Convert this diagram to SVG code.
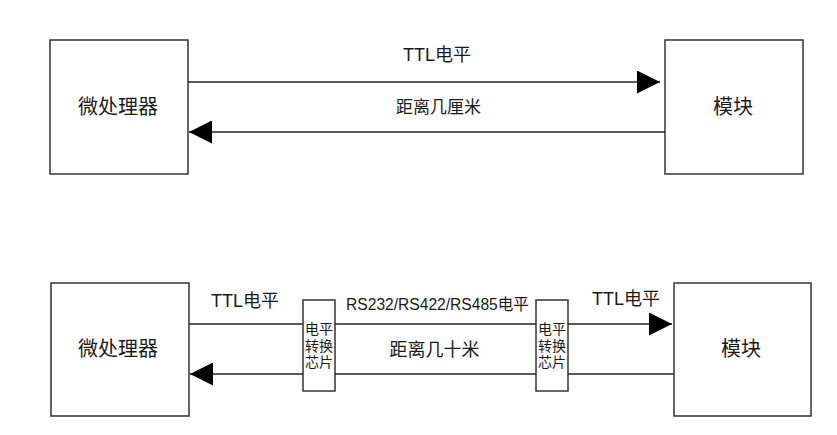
<svg xmlns="http://www.w3.org/2000/svg" width="837" height="435" viewBox="0 0 837 435">
<style>
.box{fill:#fff;stroke:#333;stroke-width:1.5}
.ln{stroke:#222;stroke-width:1.5;fill:none}
text{font-family:"Liberation Sans","Noto Sans CJK SC",sans-serif;fill:#1a1a1a;text-anchor:middle;dominant-baseline:central}
.big{font-size:20px}
.lbl{font-size:18px}
.chip{font-size:14px}
</style>
<defs>
<marker id="arr" viewBox="0 0 23 23" refX="23" refY="11.5" markerWidth="23" markerHeight="23" markerUnits="userSpaceOnUse" orient="auto">
<path d="M0,0 L23,11.5 L0,23 Z" fill="#000"/>
</marker>
</defs>
<rect width="837" height="435" fill="#fff"/>
<g id="top-cpu"><rect class="box" x="50" y="40" width="138" height="134"/><text class="big" x="118" y="107">微处理器</text></g>
<g id="top-module"><rect class="box" x="665" y="40" width="138" height="134"/><text class="big" x="733" y="107">模块</text></g>
<g id="bot-cpu"><rect class="box" x="51" y="283" width="138" height="133"/><text class="big" x="118" y="349">微处理器</text></g>
<g id="bot-module"><rect class="box" x="674" y="283" width="137" height="133"/><text class="big" x="741" y="349">模块</text></g>
<g id="chip1"><rect class="box" x="303" y="300" width="32" height="91"/><text class="chip" x="319" y="329">电平</text><text class="chip" x="319" y="345.5">转换</text><text class="chip" x="319" y="362">芯片</text></g>
<g id="chip2"><rect class="box" x="536" y="300" width="32" height="91"/><text class="chip" x="552" y="329">电平</text><text class="chip" x="552" y="345.5">转换</text><text class="chip" x="552" y="362">芯片</text></g>
<g id="connectors">
<line class="ln" x1="188" y1="82" x2="660" y2="82" marker-end="url(#arr)"/>
<line class="ln" x1="665" y1="132" x2="189" y2="132" marker-end="url(#arr)"/>
<line class="ln" x1="189" y1="324" x2="303" y2="324"/>
<line class="ln" x1="335" y1="324" x2="536" y2="324"/>
<line class="ln" x1="568" y1="324" x2="672" y2="324" marker-end="url(#arr)"/>
<line class="ln" x1="674" y1="374" x2="568" y2="374"/>
<line class="ln" x1="536" y1="374" x2="335" y2="374"/>
<line class="ln" x1="303" y1="374" x2="190" y2="374" marker-end="url(#arr)"/>
</g>
<g id="labels">
<text class="lbl" x="437" y="55">TTL电平</text>
<text x="438.5" y="107" style="font-size:17px">距离几厘米</text>
<text class="lbl" x="245" y="300.5">TTL电平</text>
<text class="lbl" x="626" y="299">TTL电平</text>
<text x="437.5" y="304" style="font-size:15.6px">RS232/RS422/RS485电平</text>
<text class="lbl" x="434.5" y="350">距离几十米</text>
</g>
</svg>
